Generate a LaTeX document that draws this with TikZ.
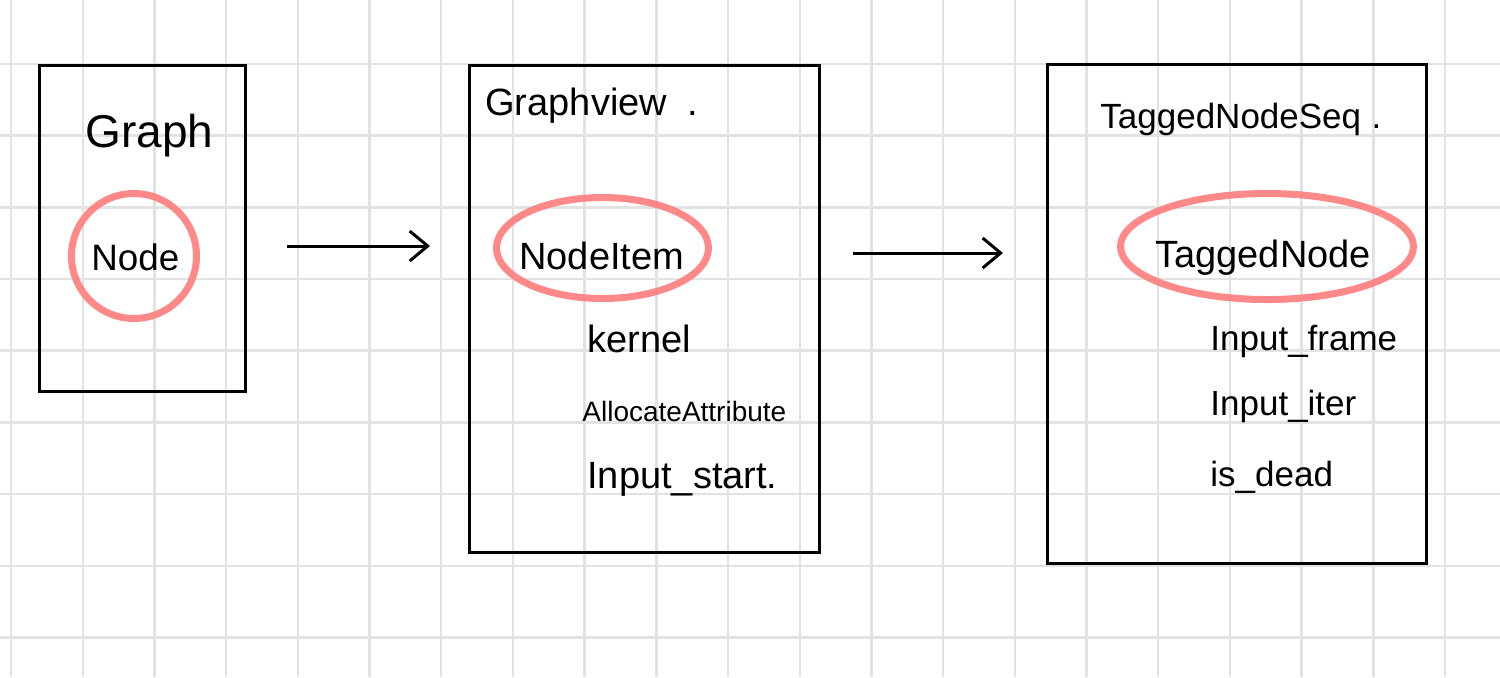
\documentclass[tikz,border=0pt]{standalone}
\usepackage{fontspec}
\setmainfont{Liberation Sans}
\usetikzlibrary{arrows.meta,shapes.geometric}
\definecolor{gridc}{RGB}{226,226,226}
\definecolor{hlc}{RGB}{255,128,128}
\begin{document}
\begin{tikzpicture}[x=0.5pt,y=-0.5pt,
  gridline/.style={draw=gridc,line width=1.2pt},
  box/.style={draw=black,line width=1.5pt,inner sep=0pt},
  hl/.style={draw=hlc,draw opacity=0.92,line width=3.5pt,ellipse,inner sep=0pt},
  lbl/.style={anchor=base west,inner sep=0pt,font=\fontsize{19}{22}\selectfont},
  conn/.style={line width=1.5pt,-{Straight Barb[length=9pt,width=15pt,line width=1.5pt]}}
]
\useasboundingbox (0,0) rectangle (1500,677);
\fill[white] (0,0) rectangle (1500,677);
\foreach \i in {0,...,20} \draw[gridline] ({11+71.7*\i},0) -- ({11+71.7*\i},677);
\foreach \j in {0,...,8} \draw[gridline] (0,{64+71.67*\j}) -- (1500,{64+71.67*\j});

% boxes
\node[box,minimum width=103pt,minimum height=163pt] (b1) at (142.5,228) {};
\node[box,minimum width=175pt,minimum height=243.5pt] (b2) at (644,308.5) {};
\node[box,minimum width=189.5pt,minimum height=249.5pt] (b3) at (1236.5,313.5) {};

% highlight ellipses
\node[hl,minimum width=62.5pt,minimum height=62.5pt] (e1) at (134,256) {};
\node[hl,minimum width=106pt,minimum height=50.5pt] (e2) at (602.5,248) {};
\node[hl,minimum width=146.5pt,minimum height=53pt] (e3) at (1267,246.5) {};

% box 1
\node[lbl,font=\fontsize{23}{26}\selectfont] (t1) at (85,147) {Graph};
\node[lbl,font=\fontsize{18.4}{22}\selectfont] (n1) at (91,270) {Node};

% box 2
\node[lbl] (t2) at (485,115) {Graphview\hspace{0.55em}.};
\node[lbl] (n2) at (519,269) {NodeItem};
\node[lbl] (k2) at (587,352) {kernel};
\node[lbl,font=\fontsize{14}{17}\selectfont] (a2) at (582,421) {AllocateAttribute};
\node[lbl] (s2) at (587,488) {Input\_start.};

% box 3
\node[lbl,font=\fontsize{17.5}{21}\selectfont] (t3) at (1100,128) {TaggedNodeSeq\hspace{0.3em}.};
\node[lbl] (n3) at (1155,267) {TaggedNode};
\node[lbl,font=\fontsize{17.5}{21}\selectfont] (f3) at (1210,350) {Input\_frame};
\node[lbl,font=\fontsize{17.5}{21}\selectfont] (i3) at (1210,415) {Input\_iter};
\node[lbl,font=\fontsize{17.5}{21}\selectfont] (d3) at (1210,486) {is\_dead};

% connectors
\coordinate (a1s) at (287,246);
\coordinate (a1e) at (430,246);
\coordinate (a2s) at (853,253);
\coordinate (a2e) at (1003,253);
\draw[conn] (a1s) -- (a1e);
\draw[conn] (a2s) -- (a2e);
\end{tikzpicture}
\end{document}
